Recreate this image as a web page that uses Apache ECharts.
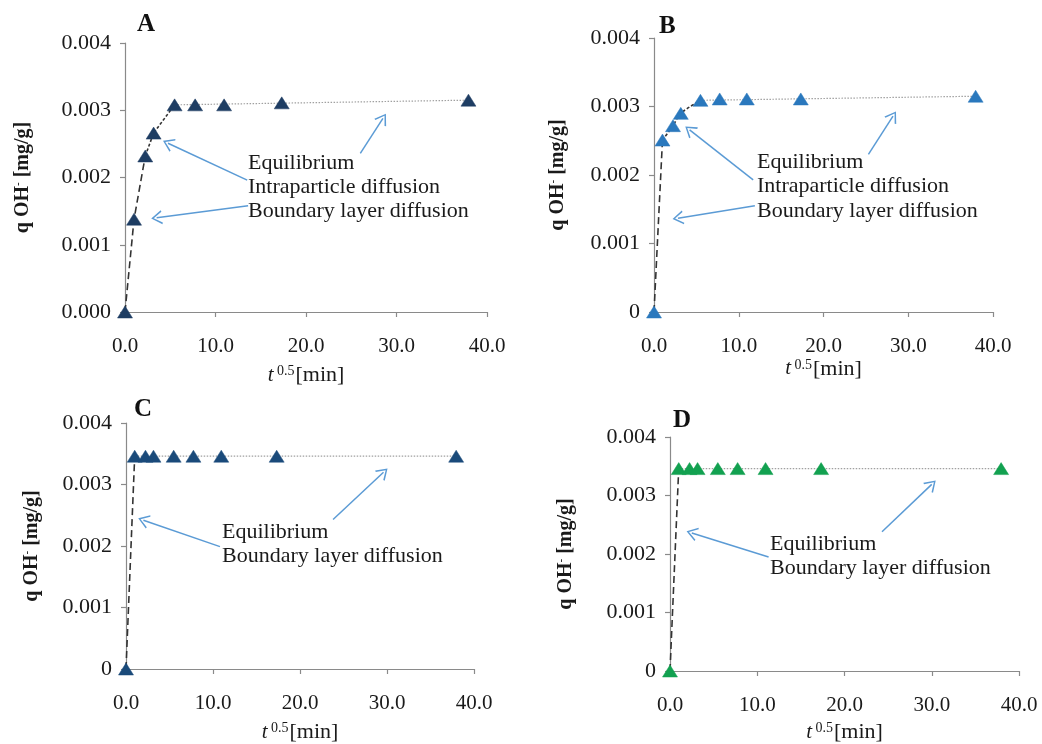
<!DOCTYPE html>
<html>
<head>
<meta charset="utf-8">
<title>Adsorption kinetics – intraparticle diffusion plots</title>
<script src="https://cdn.jsdelivr.net/npm/echarts@6/dist/echarts.min.js"></script>
<style>
  html, body { margin: 0; padding: 0; background: #fff; }
  #chart { width: 1042px; height: 744px; }
</style>
</head>
<body>
<div id="chart"></div>
<script>
// Square root of contact time, t^0.5 [min^0.5]
const tRoot = [0, 1, 2.24, 3.16, 5.48, 7.75, 10.95, 17.32, 37.95];

// Sorbed OH- amount q [mg/g] for the four materials
const qA = [0, 0.00138, 0.00232, 0.00266, 0.00308, 0.00308, 0.00308, 0.00311, 0.00315];
const qB = [0, 0.00251, 0.00272, 0.00290, 0.00309, 0.00311, 0.00311, 0.00311, 0.00315];
const qC = [0, 0.00346, 0.00346, 0.00346, 0.00346, 0.00346, 0.00346, 0.00346, 0.00346];
const qD = [0, 0.00346, 0.00346, 0.00346, 0.00346, 0.00346, 0.00346, 0.00346, 0.00346];

// Axis tick values
const xTicks = [0, 10, 20, 30, 40];
const yTicks = [0, 0.001, 0.002, 0.003, 0.004];

// Index ranges of the linear stages (boundary layer, intraparticle, equilibrium)
const stagesA = { boundary: [0, 2], intra: [2, 4], equil: [4, 8] };
const stagesB = { boundary: [0, 1], intra: [1, 4], equil: [4, 8] };
const stagesC = { boundary: [0, 1], equil: [1, 8] };
const stagesD = { boundary: [0, 1], equil: [1, 8] };

const SERIF = '"Liberation Serif", "DejaVu Serif", serif';
const AXIS_GREY = '#8a8a8a';
const ARROW_BLUE = '#5b9bd5';
const ARROW_HEAD = 'path://M5,0 L10,9 L8.9,9.5 L5,2.2 L1.1,9.5 L0,9 Z';

const panels = [
  {
    letter: 'A', q: qA, stages: stagesA, color: '#1e3d63', zero: '0.000',
    grid: { left: 125, top: 43, width: 362, height: 269 },
    letterPos: [137, 25], yNameGap: 92, xNameGap: 52,
    arrows: [[[26.0, 0.00236], [28.5, 0.00288]],
             [[13.5, 0.00196], [4.75, 0.00251]],
             [[13.6, 0.00158], [3.5, 0.00140]]],
    notes: [['Equilibrium', 248, 163], ['Intraparticle diffusion', 248, 187], ['Boundary layer diffusion', 248, 211]]
  },
  {
    letter: 'B', q: qB, stages: stagesB, color: '#2a78bd', zero: '0',
    grid: { left: 654, top: 38, width: 339, height: 274 },
    letterPos: [659, 27], yNameGap: 86, xNameGap: 45,
    arrows: [[[25.3, 0.00230], [28.2, 0.00286]],
             [[11.7, 0.00193], [4.2, 0.00266]],
             [[11.9, 0.00155], [2.83, 0.00137]]],
    notes: [['Equilibrium', 757, 162], ['Intraparticle diffusion', 757, 186], ['Boundary layer diffusion', 757, 211]]
  },
  {
    letter: 'C', q: qC, stages: stagesC, color: '#1a4a7a', zero: '0',
    grid: { left: 126, top: 423, width: 348, height: 256 },
    letterPos: [134, 410], yNameGap: 84, xNameGap: 52,
    arrows: [[[23.8, 0.00243], [29.6, 0.00320]],
             [[10.8, 0.00199], [2.0, 0.00242]]],
    notes: [['Equilibrium', 222, 532], ['Boundary layer diffusion', 222, 556]]
  },
  {
    letter: 'D', q: qD, stages: stagesD, color: '#12a150', zero: '0',
    grid: { left: 670, top: 437, width: 349, height: 245 },
    letterPos: [673, 421], yNameGap: 94, xNameGap: 50,
    arrows: [[[24.3, 0.00238], [30.0, 0.00319]],
             [[11.3, 0.00195], [2.5, 0.00236]]],
    notes: [['Equilibrium', 770, 544], ['Boundary layer diffusion', 770, 568]]
  }
];

const stageStyle = {
  boundary: { color: '#333', width: 1.6, type: [7, 4] },
  intra:    { color: '#333', width: 1.6, type: [3, 2] },
  equil:    { color: '#a0a0a0', width: 1.2, type: [1.5, 1.5] }
};

const grids = [], xAxes = [], yAxes = [], series = [], graphics = [];

panels.forEach((p, i) => {
  grids.push(p.grid);

  xAxes.push({
    gridIndex: i, type: 'value', min: xTicks[0], max: xTicks[xTicks.length - 1],
    interval: xTicks[1] - xTicks[0],
    name: '{it|t}{sup| 0.5}{n|[min]}', nameLocation: 'middle', nameGap: p.xNameGap,
    nameTextStyle: {
      rich: {
        it:  { fontFamily: SERIF, fontStyle: 'italic', fontSize: 21, color: '#1a1a1a' },
        sup: { fontFamily: SERIF, fontSize: 14, color: '#1a1a1a', verticalAlign: 'top', padding: [0, 1, 8, 0] },
        n:   { fontFamily: SERIF, fontSize: 22, color: '#1a1a1a' }
      }
    },
    axisLine: { show: true, lineStyle: { color: AXIS_GREY, width: 1.2 } },
    axisTick: { show: true, inside: false, length: 5, lineStyle: { color: AXIS_GREY, width: 1.2 } },
    axisLabel: { fontFamily: SERIF, fontSize: 21, color: '#1a1a1a', margin: 24, formatter: v => v.toFixed(1) },
    splitLine: { show: false }
  });

  yAxes.push({
    gridIndex: i, type: 'value', min: yTicks[0], max: yTicks[yTicks.length - 1],
    interval: yTicks[1] - yTicks[0],
    name: '{a|q OH}{s|-}{a| [mg/g]}', nameLocation: 'middle', nameRotate: 90, nameGap: p.yNameGap,
    nameTextStyle: {
      rich: {
        a: { fontFamily: SERIF, fontWeight: 'bold', fontSize: 20, color: '#1a1a1a' },
        s: { fontFamily: SERIF, fontWeight: 'bold', fontSize: 11, color: '#1a1a1a', verticalAlign: 'top', padding: [0, 0, 9, 0] }
      }
    },
    axisLine: { show: true, lineStyle: { color: AXIS_GREY, width: 1.2 } },
    axisTick: { show: true, inside: false, length: 5, lineStyle: { color: AXIS_GREY, width: 1.2 } },
    axisLabel: {
      fontFamily: SERIF, fontSize: 22, color: '#1a1a1a', margin: 14,
      formatter: v => (Math.abs(v) < 1e-12 ? p.zero : v.toFixed(3))
    },
    splitLine: { show: false }
  });

  // Linear stage segments through the measured points
  Object.keys(p.stages).forEach(key => {
    const [from, to] = p.stages[key];
    let pts;
    if (key === 'equil') {
      pts = [[tRoot[from], p.q[from]], [tRoot[to], p.q[to]]];
    } else {
      pts = [];
      for (let k = from; k <= to; k++) pts.push([tRoot[k], p.q[k]]);
    }
    series.push({
      type: 'line', xAxisIndex: i, yAxisIndex: i, data: pts,
      showSymbol: false, symbol: 'none', smooth: key === 'intra' && p.letter === 'B' ? 0.3 : false,
      lineStyle: stageStyle[key], silent: true, z: 2
    });
  });

  // Measured points and the annotation arrows
  series.push({
    type: 'scatter', xAxisIndex: i, yAxisIndex: i,
    data: tRoot.map((t, k) => [t, p.q[k]]),
    symbol: 'triangle', symbolSize: [15, 12],
    itemStyle: { color: p.color, borderColor: p.color, borderWidth: 0.5, opacity: 1 },
    z: 4, silent: true,
    markLine: {
      silent: true, animation: false,
      symbol: ['none', ARROW_HEAD], symbolSize: [14, 11],
      label: { show: false },
      lineStyle: { color: ARROW_BLUE, width: 1.5, type: 'solid' },
      emphasis: { disabled: true },
      data: p.arrows.map(a => [{ coord: a[0] }, { coord: a[1] }])
    }
  });

  graphics.push({
    type: 'text', x: p.letterPos[0], y: p.letterPos[1],
    style: { text: p.letter, font: 'bold 25px ' + SERIF, fill: '#111', verticalAlign: 'middle' }
  });
  p.notes.forEach(n => {
    graphics.push({
      type: 'text', x: n[1], y: n[2],
      style: { text: n[0], font: '22px ' + SERIF, fill: '#1a1a1a', verticalAlign: 'middle' }
    });
  });
});

const chart = echarts.init(document.getElementById('chart'), null, { renderer: 'canvas' });
chart.setOption({
  animation: false,
  backgroundColor: '#fff',
  grid: grids,
  xAxis: xAxes,
  yAxis: yAxes,
  series: series,
  graphic: graphics
});
</script>
</body>
</html>
